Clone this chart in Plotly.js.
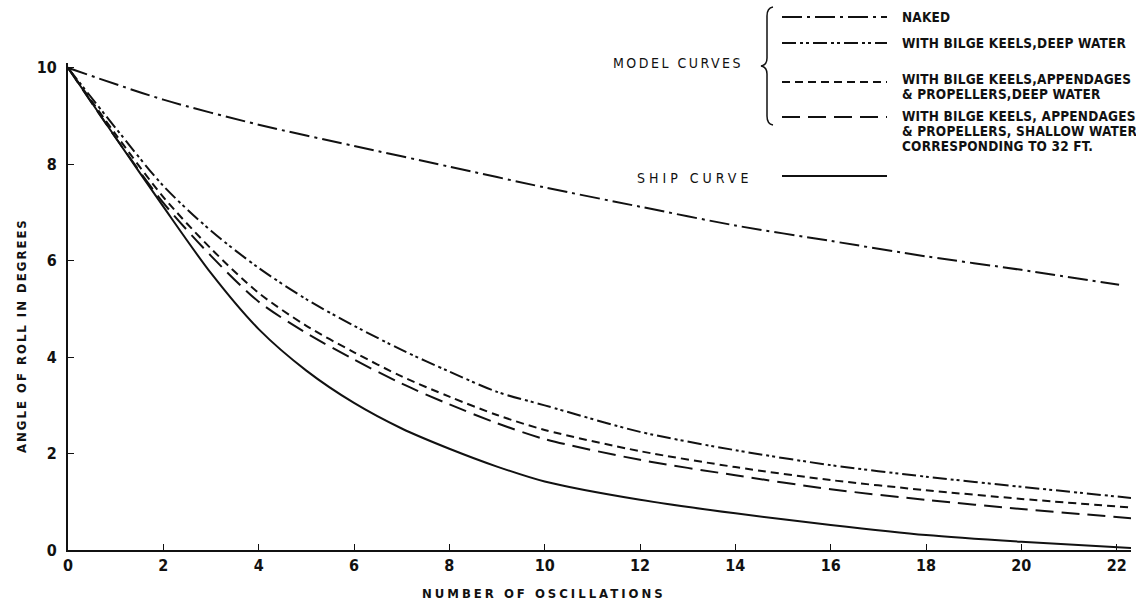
<!DOCTYPE html>
<html>
<head>
<meta charset="utf-8">
<script src="https://cdn.plot.ly/plotly-3.0.1.min.js"></script>
<style>
  html, body { margin: 0; padding: 0; background: #fff; }
  #chart { width: 1136px; height: 606px; }
</style>
</head>
<body>
<div id="chart"></div>
<script>
// ---- data ----
const oscillations = [0, 1, 2, 3, 4, 5, 6, 7, 8, 9, 10, 12, 14, 16, 18, 20, 22.3];
const naked_x      = [0, 2, 4, 6, 8, 10, 12, 14, 16, 18, 20, 22.05];
const naked        = [10, 9.34, 8.82, 8.38, 7.95, 7.52, 7.12, 6.73, 6.41, 6.09, 5.81, 5.50];
const bilgeDeep    = [10, 8.75, 7.55, 6.62, 5.85, 5.20, 4.65, 4.15, 3.70, 3.28, 3.00, 2.45, 2.07, 1.76, 1.52, 1.31, 1.08];
const appDeep      = [10, 8.62, 7.32, 6.25, 5.33, 4.65, 4.10, 3.60, 3.18, 2.80, 2.49, 2.05, 1.72, 1.45, 1.24, 1.06, 0.88];
const appShallow   = [10, 8.55, 7.20, 6.10, 5.15, 4.50, 3.95, 3.45, 3.02, 2.63, 2.30, 1.87, 1.55, 1.26, 1.04, 0.85, 0.66];
const shipCurve    = [10, 8.55, 7.12, 5.74, 4.58, 3.72, 3.05, 2.52, 2.10, 1.73, 1.42, 1.04, 0.76, 0.52, 0.31, 0.17, 0.04];

const xTicks = [0, 2, 4, 6, 8, 10, 12, 14, 16, 18, 20, 22];
const yTicks = [0, 2, 4, 6, 8, 10];

const legendLabels = [
  ["NAKED"],
  ["WITH BILGE KEELS,DEEP WATER"],
  ["WITH BILGE KEELS,APPENDAGES", "& PROPELLERS,DEEP WATER"],
  ["WITH BILGE KEELS, APPENDAGES", "& PROPELLERS, SHALLOW WATER", "CORRESPONDING TO 32 FT."]
];
const groupLabel = "MODEL CURVES";
const shipLabel = "SHIP CURVE";
const xTitle = "NUMBER OF OSCILLATIONS";
const yTitle = "ANGLE OF ROLL IN DEGREES";

// ---- styles ----
const INK = "#111";
const dashes = {
  naked: "20px,5px,3px,5px",
  bilge: "14px,4px,3px,3px,3px,4px",
  app: "8px,5px",
  shallow: "18px,8px",
  ship: "solid"
};
const FONT = "'DejaVu Sans Condensed', 'Liberation Sans Narrow', 'Arial Narrow', sans-serif";

// pixel -> paper helpers for decoration layout
const L = 68, R = 5, T = 63, B = 56, W = 1136, H = 606;
const pw = W - L - R, ph = H - T - B;
const px = v => (v - L) / pw;
const py = v => (H - B - v) / ph;

function tr(x, y, dash, name) {
  return { x: x, y: y, type: "scatter", mode: "lines", name: name,
           line: { color: INK, width: 2, dash: dash, shape: "spline", smoothing: 0.8 },
           hoverinfo: "skip" };
}

const data = [
  tr(naked_x, naked, dashes.naked, "Naked"),
  tr(oscillations, bilgeDeep, dashes.bilge, "Bilge deep"),
  tr(oscillations, appDeep, dashes.app, "App deep"),
  tr(oscillations, appShallow, dashes.shallow, "App shallow"),
  tr(oscillations, shipCurve, dashes.ship, "Ship")
];

// legend layout (pixel positions)
const entryLineY = [17, 43, 82, 117];
const entryTextY = [[17], [43], [78.5, 93.5], [116, 131, 146]];
const shapes = [];
const annotations = [];
const spacing = {};
const dashList = [dashes.naked, dashes.bilge, dashes.app, dashes.shallow];
for (let i = 0; i < 4; i++) {
  shapes.push({ type: "line", xref: "paper", yref: "paper",
    x0: px(782), x1: px(887), y0: py(entryLineY[i]), y1: py(entryLineY[i]),
    line: { color: INK, width: 2, dash: dashList[i] } });
  legendLabels[i].forEach((txt, j) => {
    spacing[annotations.length] = "0.2px";
    annotations.push({ xref: "paper", yref: "paper", x: px(900), y: py(entryTextY[i][j]),
      xanchor: "left", yanchor: "middle", align: "left", showarrow: false,
      text: txt, font: { family: FONT, size: 13.5, color: INK, weight: "bold" } });
  });
}
shapes.push({ type: "line", xref: "paper", yref: "paper",
  x0: px(782), x1: px(887), y0: py(176), y1: py(176),
  line: { color: INK, width: 2 } });
// brace
const bx = px(773), bm = px(767), bt = px(761);
shapes.push({ type: "path", xref: "paper", yref: "paper",
  path: `M ${bx} ${py(7)} Q ${bm} ${py(8)} ${bm} ${py(16)} L ${bm} ${py(58)} Q ${bm} ${py(65)} ${bt} ${py(66)} ` +
        `Q ${bm} ${py(67)} ${bm} ${py(74)} L ${bm} ${py(116)} Q ${bm} ${py(124)} ${bx} ${py(125)}`,
  line: { color: INK, width: 1.5 } });

spacing[annotations.length] = "2.5px";
annotations.push({ xref: "paper", yref: "paper", x: px(678), y: py(63),
  xanchor: "center", yanchor: "middle", showarrow: false, text: groupLabel,
  font: { family: FONT, size: 14, color: INK } });
spacing[annotations.length] = "4px";
annotations.push({ xref: "paper", yref: "paper", x: px(694), y: py(178),
  xanchor: "center", yanchor: "middle", showarrow: false, text: shipLabel,
  font: { family: FONT, size: 14, color: INK } });
spacing[annotations.length] = "3px";
annotations.push({ xref: "paper", yref: "paper", x: px(544), y: py(593),
  xanchor: "center", yanchor: "middle", showarrow: false, text: xTitle,
  font: { family: FONT, size: 13, color: INK, weight: "bold" } });
spacing[annotations.length] = "2px";
annotations.push({ xref: "paper", yref: "paper", x: px(21), y: py(336),
  xanchor: "center", yanchor: "middle", showarrow: false, text: yTitle, textangle: -90,
  font: { family: FONT, size: 13, color: INK, weight: "bold" } });

const layout = {
  width: W, height: H,
  margin: { l: L, r: R, t: T, b: B, pad: 0 },
  paper_bgcolor: "#fff", plot_bgcolor: "#fff",
  showlegend: false,
  xaxis: {
    range: [0, 22.3], tickvals: xTicks, ticktext: xTicks.map(String),
    ticks: "inside", ticklen: 6, tickwidth: 1, tickcolor: INK,
    showline: true, linecolor: INK, linewidth: 2, showgrid: false, zeroline: false,
    tickfont: { family: FONT, size: 16, color: INK, weight: "bold" }
  },
  yaxis: {
    range: [0, 10.1], tickvals: yTicks, ticktext: yTicks.map(String),
    ticks: "inside", ticklen: 6, tickwidth: 1, tickcolor: INK,
    showline: true, linecolor: INK, linewidth: 2, showgrid: false, zeroline: false,
    tickfont: { family: FONT, size: 16, color: INK, weight: "bold" },
    ticklabelstandoff: 6
  },
  shapes: shapes,
  annotations: annotations
};

Plotly.newPlot("chart", data, layout, { displayModeBar: false, staticPlot: true }).then(gd => {
  gd.querySelectorAll(".annotation").forEach(g => {
    const idx = g.getAttribute("data-index");
    if (spacing[idx]) {
      g.querySelectorAll("text").forEach(t => { t.style.letterSpacing = spacing[idx]; });
    }
  });
});
</script>
</body>
</html>
